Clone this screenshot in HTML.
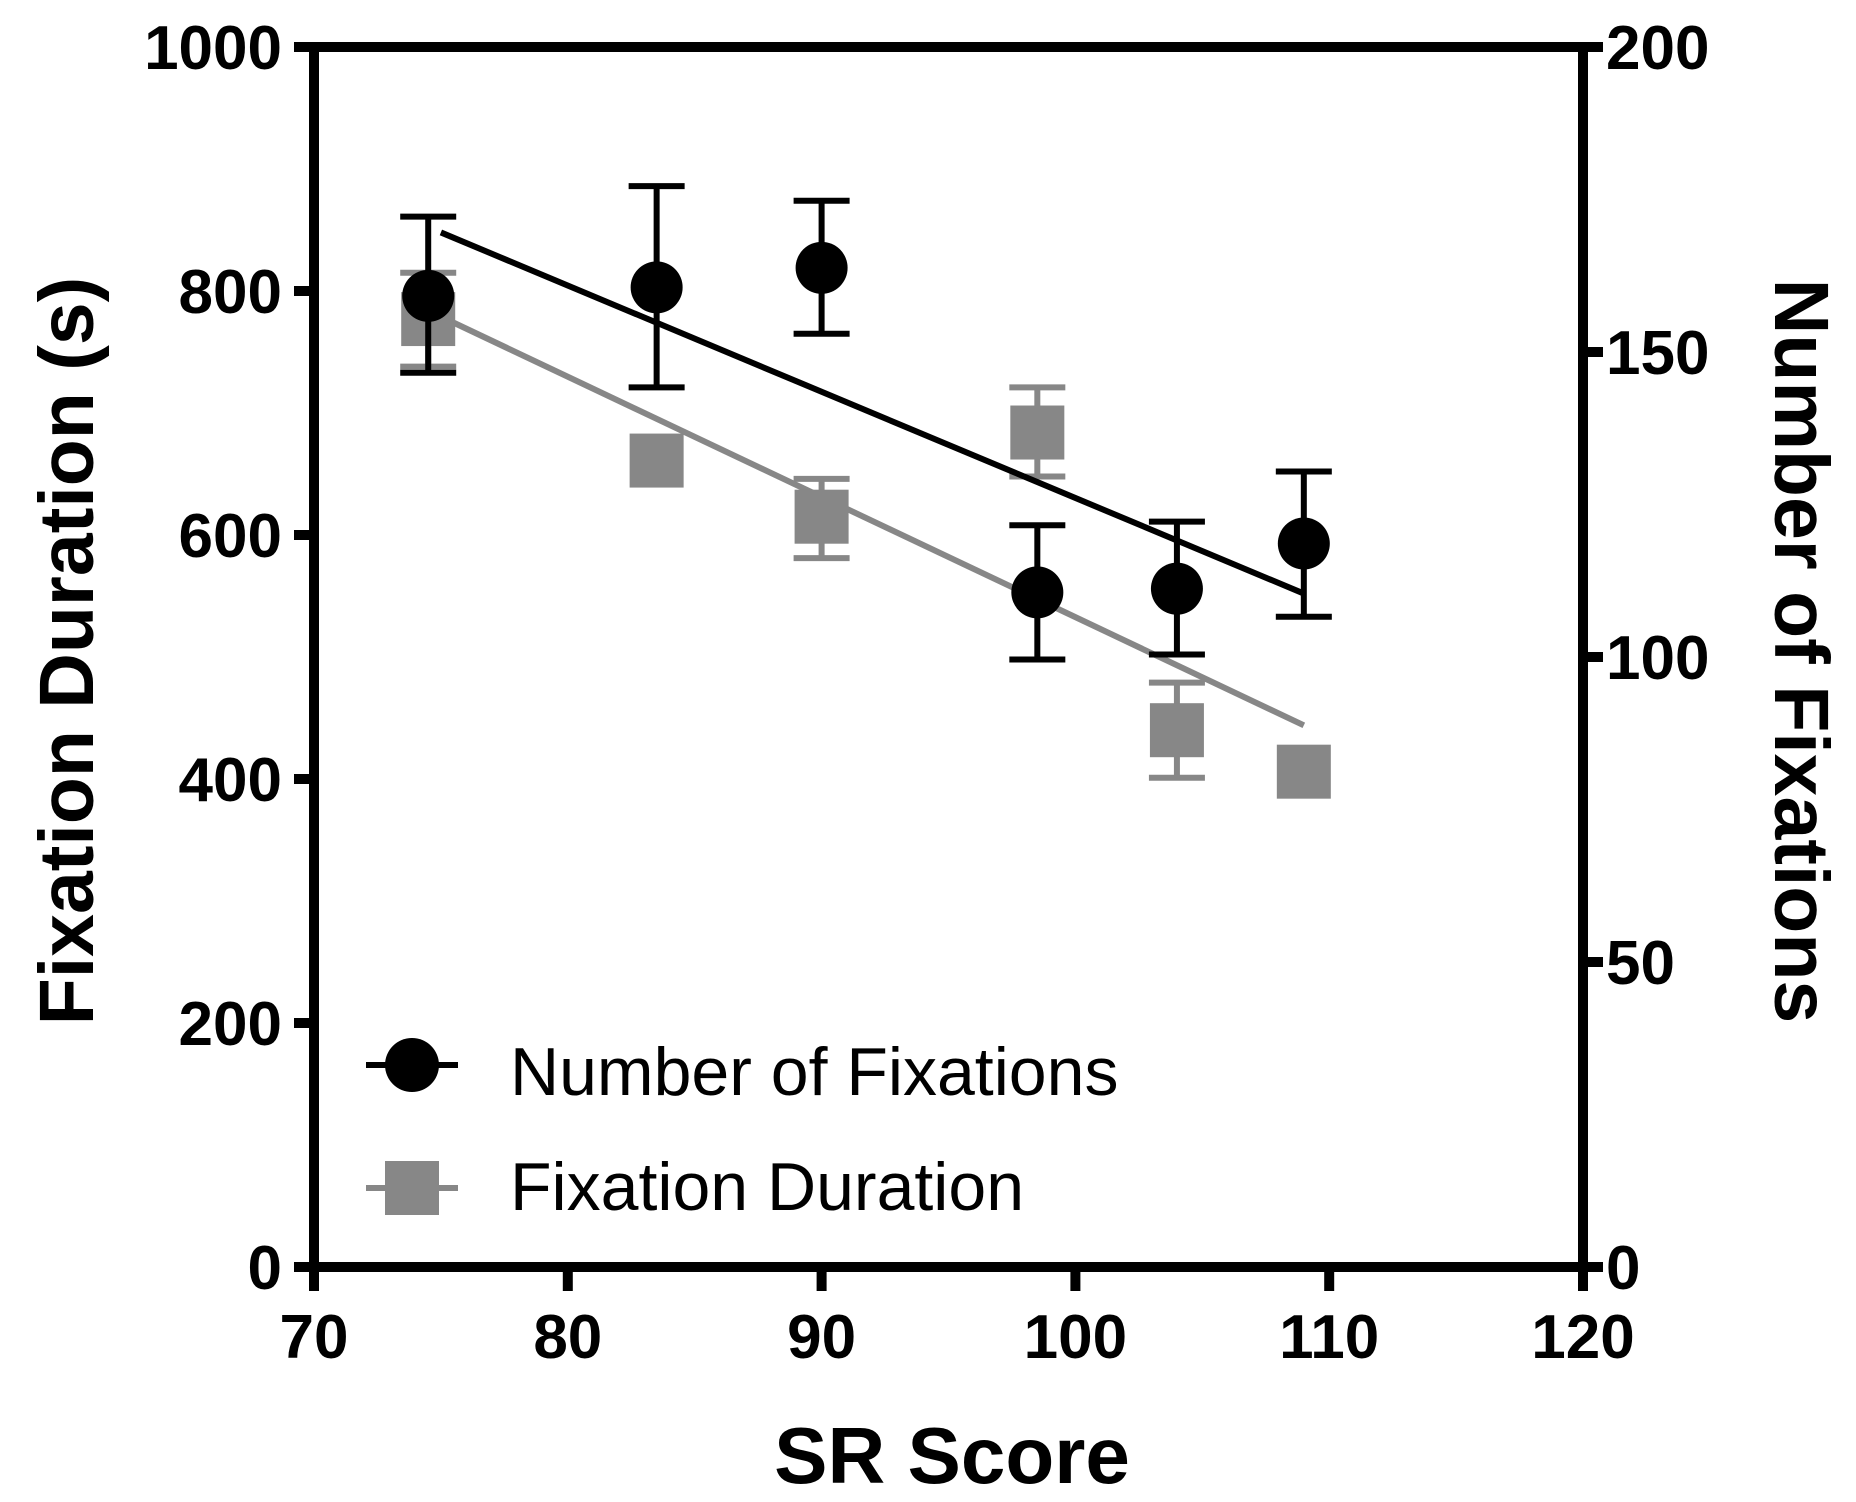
<!DOCTYPE html>
<html><head><meta charset="utf-8"><style>
html,body{margin:0;padding:0;background:#fff;}
svg{display:block;font-family:"Liberation Sans",Arial,sans-serif;}
</style></head><body>
<svg id="chart" width="1856" height="1502" viewBox="0 0 1856 1502" xmlns="http://www.w3.org/2000/svg">
<g id="plot"></g>
</svg>
<script>
const xs = [74.5, 83.5, 90, 98.5, 104, 109];
const fixCount = [159.2, 160.6, 163.8, 110.6, 111.2, 118.6];
const fixCountErrHi = [172.2, 177.2, 174.8, 121.6, 122.2, 130.4];
const fixCountErrLo = [146.6, 144.2, 153.0, 99.6, 100.4, 106.6];
const fixDur = [777, 661, 615, 684, 440, 406];
const fixDurErrHi = [815, 661, 646, 721, 479, 406];
const fixDurErrLo = [738, 661, 581, 648, 401, 406];
const countFitX = [75, 109];
const countFitY = [169.6, 110.4];
const durFitX = [75, 109];
const durFitY = [779, 444];
const xTicks = [70, 80, 90, 100, 110, 120];
const yLeftTicks = [0, 200, 400, 600, 800, 1000];
const yRightTicks = [0, 50, 100, 150, 200];

const NS = "http://www.w3.org/2000/svg";
const g = document.getElementById('plot');
const X0 = 314, X1 = 1583, Y0 = 1267, Y1 = 47;
const sx = v => X0 + (v - 70) / 50 * (X1 - X0);
const syL = v => Y0 - v / 1000 * (Y0 - Y1);
const syR = v => Y0 - v / 200 * (Y0 - Y1);
function el(tag, attrs, text) {
  const e = document.createElementNS(NS, tag);
  for (const k in attrs) e.setAttribute(k, attrs[k]);
  if (text !== undefined) e.textContent = text;
  g.appendChild(e);
  return e;
}
const GRAY = '#878787';

let a;
a = el('line', {x1: X0, y1: Y0, x2: X1, y2: Y0, stroke: '#000', 'stroke-width': 10});
 
a = el('line', {x1: X0 - 18, y1: Y1, x2: X1 + 18, y2: Y1, stroke: '#000', 'stroke-width': 10});
 
a = el('line', {x1: X0, y1: Y1 - 5, x2: X0, y2: Y0 + 24, stroke: '#000', 'stroke-width': 10});
 
a = el('line', {x1: X1, y1: Y1 - 5, x2: X1, y2: Y0 + 24, stroke: '#000', 'stroke-width': 10});
 

xTicks.forEach(v => {
  const x = sx(v);
  const t = el('line', {x1: x, y1: Y0, x2: x, y2: Y0 + 24, stroke: '#000', 'stroke-width': 10});
   
  const l = el('text', {x: x, y: Y0 + 91, 'font-size': 62, 'font-weight': 'bold', 'text-anchor': 'middle'}, v);
   
});
yLeftTicks.forEach(v => {
  const y = syL(v);
  const t = el('line', {x1: X0 - 20, y1: y, x2: X0, y2: y, stroke: '#000', 'stroke-width': 10});
   
  const l = el('text', {x: 282, y: y + 22, 'font-size': 62, 'font-weight': 'bold', 'text-anchor': 'end'}, v);
   
});
yRightTicks.forEach(v => {
  const y = syR(v);
  const t = el('line', {x1: X1, y1: y, x2: X1 + 20, y2: y, stroke: '#000', 'stroke-width': 10});
   
  const l = el('text', {x: 1606, y: y + 22, 'font-size': 62, 'font-weight': 'bold', 'text-anchor': 'start'}, v);
   
});

a = el('text', {x: 0, y: 0, 'font-size': 77, 'font-weight': 'bold', 'text-anchor': 'middle', transform: 'translate(93,651) rotate(-90)'}, 'Fixation Duration (s)');
 
a = el('text', {x: 0, y: 0, 'font-size': 77, 'font-weight': 'bold', 'text-anchor': 'middle', transform: 'translate(1775,651) rotate(90)'}, 'Number of Fixations');
 
a = el('text', {x: 952, y: 1483, 'font-size': 80, 'font-weight': 'bold', 'text-anchor': 'middle'}, 'SR Score');
 

xs.forEach((v, i) => {
  const x = sx(v);
  if (fixDurErrHi[i] !== fixDurErrLo[i]) {
    const e = el('path', {d: `M${x},${syL(fixDurErrLo[i])}V${syL(fixDurErrHi[i])}M${x-28},${syL(fixDurErrHi[i])}H${x+28}M${x-28},${syL(fixDurErrLo[i])}H${x+28}`, stroke: GRAY, 'stroke-width': 6, fill: 'none'});
     
  }
});
a = el('line', {x1: sx(durFitX[0]), y1: syL(durFitY[0]), x2: sx(durFitX[1]), y2: syL(durFitY[1]), stroke: GRAY, 'stroke-width': 6});
 
xs.forEach((v, i) => {
  const s = el('rect', {x: sx(v) - 27, y: syL(fixDur[i]) - 27, width: 54, height: 54, fill: GRAY});
   
});

xs.forEach((v, i) => {
  const x = sx(v);
  const e = el('path', {d: `M${x},${syR(fixCountErrLo[i])}V${syR(fixCountErrHi[i])}M${x-28},${syR(fixCountErrHi[i])}H${x+28}M${x-28},${syR(fixCountErrLo[i])}H${x+28}`, stroke: '#000', 'stroke-width': 6, fill: 'none'});
   
});
a = el('line', {x1: sx(countFitX[0]), y1: syR(countFitY[0]), x2: sx(countFitX[1]), y2: syR(countFitY[1]), stroke: '#000', 'stroke-width': 6});
 
xs.forEach((v, i) => {
  const c = el('circle', {cx: sx(v), cy: syR(fixCount[i]), r: 26, fill: '#000'});
   
});

a = el('line', {x1: 366, y1: 1065, x2: 458, y2: 1065, stroke: '#000', 'stroke-width': 6});
 
a = el('circle', {cx: 412, cy: 1065, r: 27, fill: '#000'});
 
a = el('text', {x: 510, y: 1095, 'font-size': 68}, 'Number of Fixations');
 
a = el('line', {x1: 366, y1: 1188, x2: 458, y2: 1188, stroke: GRAY, 'stroke-width': 6});
 
a = el('rect', {x: 385, y: 1161, width: 54, height: 54, fill: GRAY});
 
a = el('text', {x: 510, y: 1210, 'font-size': 68}, 'Fixation Duration');
 
</script>
</body></html>
